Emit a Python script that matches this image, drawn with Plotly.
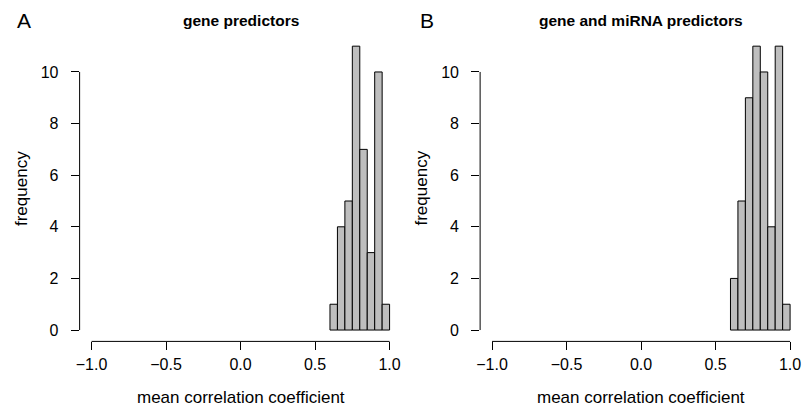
import plotly.graph_objects as go

# ---- data ----
bin_left = [0.60, 0.65, 0.70, 0.75, 0.80, 0.85, 0.90, 0.95]
bin_width = 0.05
counts_gene = [1, 4, 5, 11, 7, 3, 10, 1]
counts_gene_mirna = [2, 5, 9, 11, 10, 4, 11, 1]
x_ticks = [-1.0, -0.5, 0.0, 0.5, 1.0]
y_ticks = [0, 2, 4, 6, 8, 10]
titles = ["gene predictors", "gene and miRNA predictors"]
letters = ["A", "B"]
x_title = "mean correlation coefficient"
y_title = "frequency"

W, H = 805, 411
FONT = "Liberation Sans, Arial, Helvetica, sans-serif"

centers = [b + bin_width / 2 for b in bin_left]

fig = go.Figure()

# panel geometry (pixels)
panels = [
    dict(x0=76, x1=399.5, xa="x", ya="y", counts=counts_gene),
    dict(x0=478.5, x1=802, xa="x2", ya="y2", counts=counts_gene_mirna),
]
y_top, y_bot = 34.8, 341.4
ydom = [1 - y_bot / H, 1 - y_top / H]

for i, p in enumerate(panels):
    fig.add_trace(go.Bar(
        x=centers, y=p["counts"], width=bin_width,
        marker=dict(color="#BEBEBE", line=dict(color="black", width=1)),
        xaxis=p["xa"], yaxis=p["ya"], showlegend=False, hoverinfo="x+y",
    ))
    sfx = "" if i == 0 else "2"
    xdom = [p["x0"] / W, p["x1"] / W]
    axis_font = dict(family=FONT, size=16, color="black")
    fig.update_layout(**{
        "xaxis" + sfx: dict(
            domain=xdom, range=[-1.08, 1.08], anchor="y" + sfx,
            tickvals=x_ticks, tickformat=".1f", ticks="outside", ticklen=8,
            tickcolor="black", tickwidth=1, showgrid=False, zeroline=False,
            showline=False, tickfont=axis_font, ticklabelstandoff=0,
        ),
        "yaxis" + sfx: dict(
            domain=ydom, range=[-0.44, 11.44], anchor="x" + sfx,
            tickvals=y_ticks, ticks="outside", ticklen=8, tickcolor="black",
            tickwidth=1, showgrid=False, zeroline=False, showline=False,
            tickfont=axis_font, ticklabelstandoff=9,
        ),
    })
    # axis lines spanning only the tick range (R style)
    fig.add_shape(type="line", xref=p["xa"], yref=p["ya"] + " domain",
                  x0=x_ticks[0], x1=x_ticks[-1], y0=0, y1=0,
                  line=dict(color="black", width=1))
    fig.add_shape(type="line", xref=p["xa"] + " domain", yref=p["ya"],
                  x0=0, x1=0, y0=y_ticks[0], y1=y_ticks[-1],
                  line=dict(color="black", width=1))
    cx = (p["x0"] + p["x1"]) / 2 / W
    # main title
    fig.add_annotation(text="<b>" + titles[i] + "</b>", x=cx, y=1 - 20 / H,
                       xref="paper", yref="paper", showarrow=False,
                       xanchor="center", yanchor="middle",
                       font=dict(family=FONT, size=15.5, color="black"))
    # x title
    fig.add_annotation(text=x_title, x=cx, y=1 - 397 / H,
                       xref="paper", yref="paper", showarrow=False,
                       xanchor="center", yanchor="middle",
                       font=dict(family=FONT, size=17, color="black"))
    # y title
    fig.add_annotation(text=y_title, x=(p["x0"] - 59) / W,
                       y=1 - (y_top + y_bot) / 2 / H,
                       xref="paper", yref="paper", showarrow=False,
                       textangle=-90, xanchor="center", yanchor="middle",
                       font=dict(family=FONT, size=17, color="black"))
    # panel letter
    fig.add_annotation(text=letters[i], x=(20 if i == 0 else 425) / W,
                       y=1 - 20 / H, xref="paper", yref="paper",
                       showarrow=False, xanchor="center", yanchor="middle",
                       font=dict(family=FONT, size=21, color="black"))

fig.update_layout(
    width=W, height=H, autosize=False,
    margin=dict(l=0, r=0, t=0, b=0),
    paper_bgcolor="white", plot_bgcolor="white",
    font=dict(family=FONT, color="black"),
    barmode="overlay",
)

fig.write_html(
    "out.html",
    config={"displayModeBar": False},
    post_script="document.body.style.margin='0px';document.body.style.padding='0px';document.body.style.overflow='hidden';",
)
